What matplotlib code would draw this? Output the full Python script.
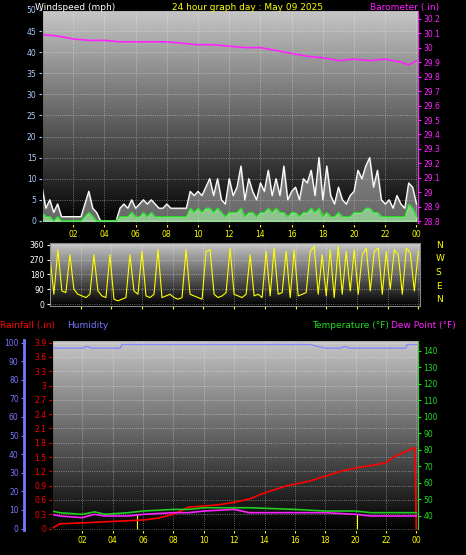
import numpy as np
import matplotlib
matplotlib.use("Agg")
import matplotlib.pyplot as plt

gust = [8,3,5,2, 4,1,1,1, 1,1,1,4, 7,3,2,0, 0,0,0,0, 3,4,3,5, 3,4,5,4, 5,4,3,3,
        4,3,3,3, 3,3,7,6, 7,6,8,10, 6,10,5,4, 10,6,8,13, 5,10,7,5, 9,7,12,6, 10,6,13,5,
        7,8,5,10, 9,12,6,15, 5,13,6,4, 8,5,4,6, 7,12,10,13, 15,8,12,5, 4,5,3,6, 4,3,9,8, 4]
avg = [2,1,1,0, 1,0,0,0, 0,0,0,1, 2,1,0,0, 0,0,0,0, 1,1,1,2, 1,1,2,1, 2,1,1,1,
       1,1,1,1, 1,1,3,2, 3,2,3,3, 2,3,2,1, 2,2,2,3, 1,2,2,1, 2,2,3,2, 3,2,2,1,
       2,2,1,2, 2,3,2,3, 1,2,1,1, 2,1,1,1, 2,2,2,3, 3,2,2,1, 1,1,1,1, 1,1,4,3, 1]
wdir = [300,60,330,80, 70,300,90,60, 50,40,60,300, 80,50,40,300, 30,20,30,40, 300,80,60,320, 50,40,60,330,
        40,50,60,40, 30,40,330,60, 50,40,30,320, 330,60,40,50, 70,340,60,50, 40,60,300,50, 60,40,320,50,
        340,60,70,320, 40,330,50,60, 70,320,350,60, 300,50,330,40, 350,60,320,80, 330,60,300,340, 80,320,340,60,
        320,90,330,300, 60,340,310,80, 320]
baro_t = [0,1,2,3,4,5,6,7,8,9,10,11,12,13,14,15,16,17,18,19,20,21,22,23,23.5,24]
baro = [30.09,30.08,30.06,30.05,30.05,30.04,30.04,30.04,30.04,30.03,30.02,30.02,30.01,30.00,30.00,29.98,29.96,29.94,29.93,29.91,29.92,29.91,29.92,29.90,29.88,29.91]
hum_t = [0,2,2.3,2.6,4.5,4.6,17,17.5,18,19,19.3,19.6,23.3,23.4,24]
hum = [97,97,98,97,97,99,99,98,97,97,98,97,97,99,99]
rain_t = [0,0.5,2,4,6,7,8,9,11,12,13,14,15.5,17,19,20,21,22,22.5,23.2,23.9,24]
rain = [0,0.1,0.12,0.15,0.18,0.22,0.3,0.45,0.5,0.55,0.62,0.75,0.9,1.0,1.2,1.27,1.32,1.38,1.5,1.6,1.7,0]
temp_t = [0,0.5,2,2.8,3.5,5,6,8,9,10,12,13,16,18,20,21,24]
temp = [43,42,41,42.5,41,42,43,44,44,45,45,45,44,43,43,42,42]
dew = [41,40,39,41,40,40,41,42,42,43,44,42,42,42,41,40,40]
hours = ["02","04","06","08","10","12","14","16","18","20","22","00"]

fig = plt.figure(figsize=(4.66,5.55), dpi=100, facecolor="black")
grad = np.linspace(0.78,0.0,256).reshape(-1,1)
ticks_h = list(range(2,25,2))

def base(ax, xmax=24.1):
    ax.set_facecolor("black")
    ax.imshow(grad, cmap="gray", vmin=0, vmax=1, aspect="auto", extent=[0,1,0,1],
              transform=ax.transAxes, zorder=0)
    ax.set_xlim(0, xmax)
    ax.set_xticks(ticks_h)
    ax.set_xticklabels(hours, color="yellow", fontsize=5.5)
    ax.tick_params(axis="x", colors="yellow", length=2, pad=2)
    ax.grid(True, color="white", ls=":", lw=0.6, alpha=0.5)
    for s in ax.spines.values():
        s.set_color("#888888")

t15 = np.arange(len(gust))*0.25
tdir = np.linspace(0, 24, len(wdir))
ax1 = fig.add_axes([0.090,0.596,0.807,0.386])
base(ax1)
ax1.set_ylim(-0.8,50)
ax1.set_yticks(range(0,51,5))
ax1.tick_params(axis="y", colors="#aaccff", labelsize=5.5, length=2, pad=2)
ax1.fill_between(t15, 0, gust, color="#cccccc", alpha=0.5, zorder=2)
ax1.plot(t15, gust, color="white", lw=0.9, zorder=3)
ax1.fill_between(t15, 0, avg, color="#aaffaa", alpha=0.6, zorder=4)
ax1.plot(t15, avg, color="#22dd22", lw=0.9, zorder=5)
axb = ax1.twinx()
axb.set_ylim(28.78,30.26)
bt = np.round(np.arange(28.8,30.21,0.1),1)
axb.set_yticks(bt)
axb.set_yticklabels(["%g" % v for v in bt])
axb.tick_params(axis="y", colors="#ff22ff", labelsize=5.5, length=2, pad=2)
axb.spines["right"].set_color("#ff22ff")
axb.plot(baro_t, baro, color="#ff22ff", lw=1.2)
fig.text(0.075,0.995,"Windspeed (mph)", color="white", fontsize=6.5, va="top")
fig.text(0.37,0.995,"24 hour graph day : May 09 2025", color="yellow", fontsize=6.5, va="top")
fig.text(0.795,0.995,"Barometer (.in)", color="#ff22ff", fontsize=6.5, va="top")

ax2 = fig.add_axes([0.107,0.449,0.794,0.113])
base(ax2)
ax2.set_xticklabels([])
ax2.set_ylim(-10,370)
ax2.set_yticks([0,90,180,270,360])
ax2.tick_params(axis="y", colors="white", labelsize=5.5, length=2, pad=2)
ax2.plot(tdir, wdir, color="yellow", lw=0.8)
for i, l in enumerate(["N","W","S","E","N"]):
    fig.text(0.935, 0.558-i*0.0245, l, color="yellow", fontsize=6.5, va="center")

ax3 = fig.add_axes([0.1116,0.045,0.785,0.342])
base(ax3)
ax3.set_ylim(-0.03,3.95)
rt = np.round(np.arange(0,3.91,0.3),1)
ax3.set_yticks(rt)
ax3.set_yticklabels(["%g" % v for v in rt])
ax3.tick_params(axis="y", colors="red", labelsize=5.5, length=2, pad=2)
ax3.spines["left"].set_color("red")
ax3.plot(rain_t, rain, color="red", lw=1.2, zorder=5)
ax3.vlines([5.6,20.1],0,0.3,color="yellow",lw=0.8)
axh = ax3.twinx()
axh.spines["left"].set_position(("outward",20))
axh.spines["left"].set_visible(True)
axh.spines["left"].set_color("#7777ff")
axh.spines["left"].set_linewidth(2)
axh.yaxis.set_label_position("left"); axh.yaxis.set_ticks_position("left")
axh.set_ylim(-0.8,101.3)
axh.set_yticks(range(0,101,10))
axh.tick_params(axis="y", colors="#7777ff", labelsize=5.5, length=2, pad=2)
axh.plot(hum_t, hum, color="#8888ff", lw=1)
axt = ax3.twinx()
axt.set_ylim(31.5,146.5)
axt.set_yticks(range(40,141,10))
axt.tick_params(axis="y", colors="#22dd22", labelsize=5.5, length=2, pad=2)
axt.spines["right"].set_color("#22dd22")
axt.plot(temp_t, dew, color="#ff22ff", lw=1.2)
axt.plot(temp_t, temp, color="#22cc22", lw=1.2)
fig.text(0.0,0.413,"Rainfall (.in)", color="red", fontsize=6.5, va="center")
fig.text(0.145,0.413,"Humidity", color="#7777ff", fontsize=6.5, va="center")
fig.text(0.67,0.413,"Temperature (°F)", color="#22dd22", fontsize=6.5, va="center")
fig.text(0.84,0.413,"Dew Point (°F)", color="#ff22ff", fontsize=6.5, va="center")

fig.savefig("out.png", dpi=100, facecolor="black")
